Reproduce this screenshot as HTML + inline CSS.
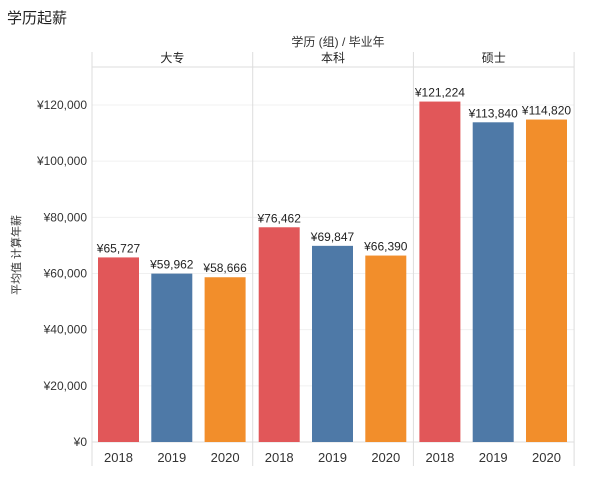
<!DOCTYPE html>
<html><head><meta charset="utf-8"><style>
body{margin:0;background:#fff;font-family:"Liberation Sans","Noto Sans CJK SC",sans-serif;}
svg text{font-family:"Liberation Sans","Noto Sans CJK SC",sans-serif;}
</style></head><body>
<svg id="c" width="604" height="473" xmlns="http://www.w3.org/2000/svg">
<text x="7" y="23" font-size="15" fill="#222">学历起薪</text>
<text x="338" y="46" font-size="12" fill="#333" text-anchor="middle">学历 (组)  /  毕业年</text>
<text transform="translate(20,255) rotate(-90)" font-size="11" fill="#333" text-anchor="middle">平均值 计算年薪</text>
<g id="g"></g>
</svg>
<script>
const groups=["大专","本科","硕士"];
const years=["2018","2019","2020"];
const values=[[65727,59962,58666],[76462,69847,66390],[121224,113840,114820]];
const ticks=[0,20000,40000,60000,80000,100000,120000];
const colors=["#e15759","#4e79a7","#f28e2b"];
const NS="http://www.w3.org/2000/svg",g=document.getElementById("g");
const x0=92,pw=160.7,y0=442,ytop=105,vmax=120000;
const Y=v=>y0-(v/vmax)*(y0-ytop);
function mk(t,a,txt){const e=document.createElementNS(NS,t);for(const k in a)e.setAttribute(k,a[k]);if(txt!=null)e.textContent=txt;g.appendChild(e);return e;}
const fmt=v=>"¥"+v.toLocaleString("en-US");
ticks.forEach(t=>{
 const l=mk("line",{x1:x0,x2:x0+pw*3,y1:Y(t),y2:Y(t),stroke:"#f0f0f0"});
 
 
 const tx=mk("text",{x:87,y:Y(t)+4,"font-size":12,fill:"#333","text-anchor":"end"},fmt(t));
 
 
});
const hl=mk("line",{x1:x0,x2:x0+pw*3,y1:67,y2:67,stroke:"#ddd"});


for(let i=0;i<=3;i++){
 const l=mk("line",{x1:x0+pw*i,x2:x0+pw*i,y1:52,y2:466,stroke:"#ddd"});
 
 
}
const ax=mk("line",{x1:x0,x2:x0+pw*3,y1:y0,y2:y0,stroke:"#ddd"});


groups.forEach((gr,i)=>{
 const gx=x0+pw*i;
 const t=mk("text",{x:gx+pw/2,y:62,"font-size":12,fill:"#222","text-anchor":"middle"},gr);
 
 
 years.forEach((yr,j)=>{
  const bx=gx+6+j*53.3,bw=41,v=values[i][j];
  const r=mk("rect",{x:bx,y:Y(v),width:bw,height:y0-Y(v),fill:colors[j]});
  
  
  const lb=mk("text",{x:bx+bw/2,y:Y(v)-5,"font-size":12,fill:"#222","text-anchor":"middle"},fmt(v));
  
  
  const yl=mk("text",{x:bx+bw/2,y:462,"font-size":13,fill:"#333","text-anchor":"middle"},yr);
  
  
 });
});
</script>
</body></html>
